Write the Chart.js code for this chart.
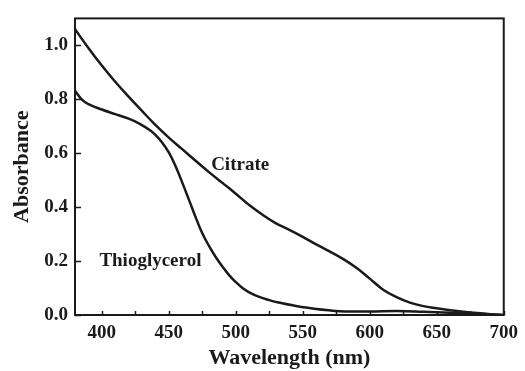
<!DOCTYPE html>
<html>
<head>
<meta charset="utf-8">
<script src="https://cdn.jsdelivr.net/npm/chart.js@4/dist/chart.umd.min.js"></script>
<style>
html,body{margin:0;padding:0;background:#fff;}
#wrap{width:525px;height:371px;position:relative;}
</style>
</head>
<body>
<div id="wrap"><canvas id="c" width="525" height="371"></canvas></div>
<script>
// Citrate spectrum (wavelength nm, absorbance)
const citrateWavelength = [380,390,400,410,420,430,440,450,460,470,480,490,500,510,520,530,540,550,560,570,580,590,600,610,620,630,640,650,660,670,680,690,700];
const citrateAbsorbance = [1.06,0.99,0.925,0.865,0.81,0.757,0.705,0.658,0.615,0.572,0.53,0.49,0.45,0.408,0.372,0.34,0.316,0.29,0.262,0.236,0.208,0.175,0.135,0.094,0.066,0.046,0.033,0.025,0.018,0.012,0.007,0.003,0.0];
// Thioglycerol spectrum
const thioWavelength = [380,385,390,400,410,420,428,436,440,445,450,455,460,465,470,475,480,485,490,495,500,505,510,517,525,532,549,574,600,620,640,660,680,700];
const thioAbsorbance = [0.832,0.80,0.782,0.762,0.745,0.728,0.71,0.685,0.668,0.64,0.603,0.553,0.492,0.428,0.363,0.303,0.256,0.215,0.18,0.148,0.122,0.10,0.084,0.068,0.055,0.046,0.03,0.015,0.013,0.015,0.012,0.008,0.004,0.0];
// Tick labels
const xTickValues = [400,450,500,550,600,650,700];
const xMinorTickValues = [425,475,525,575,625,675];
const yTickValues = [0.0,0.2,0.4,0.6,0.8,1.0];
// Curve labels (text, wavelength, absorbance)
const curveLabels = [
  {text:'Citrate', x:481.6, y:0.556},
  {text:'Thioglycerol', x:398.2, y:0.201}
];

const FONT = '"Liberation Serif","Times New Roman",serif';
const INK = '#1a1a1a';

const toPts = (xs, ys) => xs.map((x,i)=>({x:x, y:ys[i]}));

const framePlugin = {
  id:'frame',
  afterDatasetsDraw(chart){
    const {ctx, chartArea:a, scales:{x, y}} = chart;
    ctx.save();
    ctx.strokeStyle = INK;
    ctx.lineWidth = 2;
    ctx.strokeRect(a.left, a.top, a.right - a.left, a.bottom - a.top);
    ctx.lineWidth = 1.5;
    ctx.beginPath();
    xTickValues.concat(xMinorTickValues).forEach(v=>{
      const px = Math.round(x.getPixelForValue(v)) + 0.5;
      ctx.moveTo(px, a.bottom);
      ctx.lineTo(px, a.bottom - 4);
    });
    yTickValues.forEach(v=>{
      const py = Math.round(y.getPixelForValue(v)) + 0.5;
      ctx.moveTo(a.left, py);
      ctx.lineTo(a.left + 6, py);
    });
    ctx.stroke();
    ctx.fillStyle = INK;
    ctx.font = 'bold 19px ' + FONT;
    ctx.textBaseline = 'middle';
    ctx.textAlign = 'left';
    curveLabels.forEach(l=>{
      ctx.fillText(l.text, x.getPixelForValue(l.x), y.getPixelForValue(l.y));
    });
    ctx.restore();
  }
};

new Chart(document.getElementById('c'), {
  type:'line',
  data:{
    datasets:[
      {label:'Citrate', data:toPts(citrateWavelength, citrateAbsorbance), borderColor:INK, borderWidth:2.5, pointRadius:0, tension:0.4, fill:false},
      {label:'Thioglycerol', data:toPts(thioWavelength, thioAbsorbance), borderColor:INK, borderWidth:2.5, pointRadius:0, tension:0.4, fill:false}
    ]
  },
  options:{
    responsive:false,
    animation:false,
    devicePixelRatio:1,
    layout:{padding:{left:0, right:18, top:14, bottom:0}},
    plugins:{legend:{display:false}, tooltip:{enabled:false}},
    scales:{
      x:{
        type:'linear', min:380, max:700,
        afterBuildTicks(s){ s.ticks = xTickValues.map(v=>({value:v})); },
        afterFit(s){ s.height = 56; },
        grid:{display:false, drawTicks:false},
        border:{display:false},
        ticks:{color:INK, padding:7, font:{family:FONT, size:19, weight:'bold'}, maxRotation:0, autoSkip:false,
          callback:(v)=>String(v)},
        title:{display:true, text:'Wavelength (nm)', color:INK, font:{family:FONT, size:22, weight:'bold', lineHeight:1}, padding:{top:0, bottom:2}}
      },
      y:{
        type:'linear', min:0, max:1.1,
        afterBuildTicks(s){ s.ticks = yTickValues.map(v=>({value:v})); },
        afterFit(s){ s.width = 75; },
        grid:{display:false, drawTicks:false},
        border:{display:false},
        ticks:{color:INK, padding:7, font:{family:FONT, size:19, weight:'bold'}, autoSkip:false,
          callback:(v)=>Number(v).toFixed(1)},
        title:{display:true, text:'Absorbance', color:INK, font:{family:FONT, size:22, weight:'bold', lineHeight:1}, padding:{top:11, bottom:0}}
      }
    }
  },
  plugins:[framePlugin]
});
</script>
</body>
</html>
